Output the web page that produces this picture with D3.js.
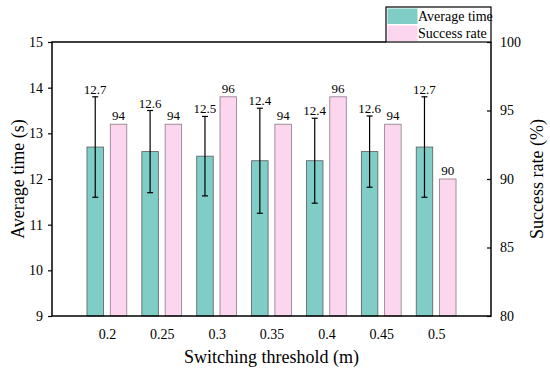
<!DOCTYPE html>
<html>
<head>
<meta charset="utf-8">
<script src="https://cdn.jsdelivr.net/npm/d3@7"></script>
<style>
  body { margin: 0; background: #fff; }
</style>
</head>
<body>
<div id="chart"></div>
<script>
// Data.
var thresholds = ['0.2', '0.25', '0.3', '0.35', '0.4', '0.45', '0.5'];
var avgTime = [12.7, 12.6, 12.5, 12.4, 12.4, 12.6, 12.7];
var avgTimeErr = [1.1, 0.9, 0.87, 1.15, 0.93, 0.78, 1.1];
var successRate = [94, 94, 96, 94, 96, 94, 90];
var leftTicks = [9, 10, 11, 12, 13, 14, 15];
var rightTicks = [80, 85, 90, 95, 100];

var width = 550, height = 377;
var margin = { top: 42, right: 59, bottom: 61, left: 52 };
var plotW = width - margin.left - margin.right;
var plotH = height - margin.top - margin.bottom;

var serif = 'Liberation Serif';
var teal = '#80cdc8', pink = '#fcd6ee', barStroke = '#5a5a5a';

var svg = d3.select('#chart').append('svg')
    .attr('width', width)
    .attr('height', height)
    .attr('font-family', serif);

var g = svg.append('g').attr('transform', 'translate(' + margin.left + ',' + margin.top + ')');

// Scales: category i sits at position i + 1 on a 0..8 range.
var x = d3.scaleLinear().domain([0, thresholds.length + 1]).range([0, plotW]);
var yL = d3.scaleLinear().domain([9, 15]).range([plotH, 0]);
var yR = d3.scaleLinear().domain([80, 100]).range([plotH, 0]);

var barW = 16.5, gap = 3.4;

// Average time bars.
g.selectAll('.bar-time')
    .data(avgTime)
    .enter()
    .append('rect')
    .attr('class', 'bar-time')
    .attr('x', function(d, i) { return x(i + 1) - gap - barW; })
    .attr('y', function(d) { return yL(d); })
    .attr('width', barW)
    .attr('height', function(d) { return plotH - yL(d); })
    .attr('fill', teal)
    .attr('stroke', barStroke)
    .attr('stroke-width', 0.8);

// Success rate bars.
g.selectAll('.bar-rate')
    .data(successRate)
    .enter()
    .append('rect')
    .attr('class', 'bar-rate')
    .attr('x', function(d, i) { return x(i + 1) + gap; })
    .attr('y', function(d) { return yR(d); })
    .attr('width', barW)
    .attr('height', function(d) { return plotH - yR(d); })
    .attr('fill', pink)
    .attr('stroke', '#8a7a86')
    .attr('stroke-width', 0.8);

// Error bars on average time.
var err = g.selectAll('.err')
    .data(avgTime)
    .enter()
    .append('g')
    .attr('class', 'err')
    .attr('stroke', '#000')
    .attr('stroke-width', 1.2);

var cx = function(i) { return x(i + 1) - gap - barW / 2; };

err.append('line')
    .attr('x1', function(d, i) { return cx(i); })
    .attr('x2', function(d, i) { return cx(i); })
    .attr('y1', function(d, i) { return yL(d + avgTimeErr[i]); })
    .attr('y2', function(d, i) { return yL(d - avgTimeErr[i]); });

err.append('line')
    .attr('x1', function(d, i) { return cx(i) - 3; })
    .attr('x2', function(d, i) { return cx(i) + 3; })
    .attr('y1', function(d, i) { return yL(d + avgTimeErr[i]); })
    .attr('y2', function(d, i) { return yL(d + avgTimeErr[i]); });

err.append('line')
    .attr('x1', function(d, i) { return cx(i) - 3; })
    .attr('x2', function(d, i) { return cx(i) + 3; })
    .attr('y1', function(d, i) { return yL(d - avgTimeErr[i]); })
    .attr('y2', function(d, i) { return yL(d - avgTimeErr[i]); });

// Value labels.
g.selectAll('.lbl-time')
    .data(avgTime)
    .enter()
    .append('text')
    .attr('x', function(d, i) { return cx(i); })
    .attr('y', function(d, i) { return yL(d + avgTimeErr[i]) - 3; })
    .attr('text-anchor', 'middle')
    .attr('font-size', 13)
    .text(function(d) { return d.toFixed(1); });

g.selectAll('.lbl-rate')
    .data(successRate)
    .enter()
    .append('text')
    .attr('x', function(d, i) { return x(i + 1) + gap + barW / 2; })
    .attr('y', function(d) { return yR(d) - 4; })
    .attr('text-anchor', 'middle')
    .attr('font-size', 13)
    .text(function(d) { return d; });

// Axes.
var styleAxis = function(sel) {
    sel.attr('font-family', serif).attr('font-size', 14);
    sel.selectAll('.domain').remove();
    sel.selectAll('line').attr('stroke', '#000').attr('stroke-width', 1.2);
    sel.selectAll('text').attr('fill', '#000');
};

g.append('g')
    .call(d3.axisLeft(yL).tickValues(leftTicks).tickSize(4).tickPadding(5).tickFormat(d3.format('d')))
    .call(styleAxis);

g.append('g')
    .attr('transform', 'translate(' + plotW + ',0)')
    .call(d3.axisRight(yR).tickValues(rightTicks).tickSize(-4).tickPadding(9).tickFormat(d3.format('d')))
    .call(styleAxis);

g.append('g')
    .attr('transform', 'translate(0,' + plotH + ')')
    .call(d3.axisBottom(x).tickValues(d3.range(1, thresholds.length + 1)).tickSize(0).tickPadding(13)
        .tickFormat(function(d) { return thresholds[d - 1]; }))
    .call(styleAxis);

// Frame (top edge stops at the legend).
var frame = g.append('g').attr('stroke', '#000').attr('stroke-width', 1.5).attr('fill', 'none');
frame.append('path')
    .attr('d', 'M' + (plotW - 105) + ',0H0V' + plotH + 'H' + plotW + 'V0');

// Legend.
var legend = svg.append('g').attr('transform', 'translate(' + (margin.left + plotW - 105) + ',7)');
legend.append('rect')
    .attr('width', 105).attr('height', 35)
    .attr('fill', '#fff').attr('stroke', '#000').attr('stroke-width', 1.2);
var legendItems = [['Average time', teal], ['Success rate', pink]];
legendItems.forEach(function(item, i) {
    legend.append('rect')
        .attr('x', 1.5).attr('y', 1.5 + i * 17)
        .attr('width', 30).attr('height', 15.5)
        .attr('fill', item[1]);
    legend.append('text')
        .attr('x', 32).attr('y', 14 + i * 16.5)
        .attr('font-size', 14)
        .text(item[0]);
});

// Axis titles.
svg.append('text')
    .attr('transform', 'translate(' + 24 + ',' + (margin.top + plotH / 2) + ') rotate(-90)')
    .attr('text-anchor', 'middle')
    .attr('font-size', 18)
    .text('Average time (s)');

svg.append('text')
    .attr('transform', 'translate(' + 543 + ',' + (margin.top + plotH / 2) + ') rotate(-90)')
    .attr('text-anchor', 'middle')
    .attr('font-size', 18)
    .text('Success rate (%)');

svg.append('text')
    .attr('x', margin.left + plotW / 2)
    .attr('y', 363)
    .attr('text-anchor', 'middle')
    .attr('font-size', 18)
    .text('Switching threshold (m)');
</script>
</body>
</html>
